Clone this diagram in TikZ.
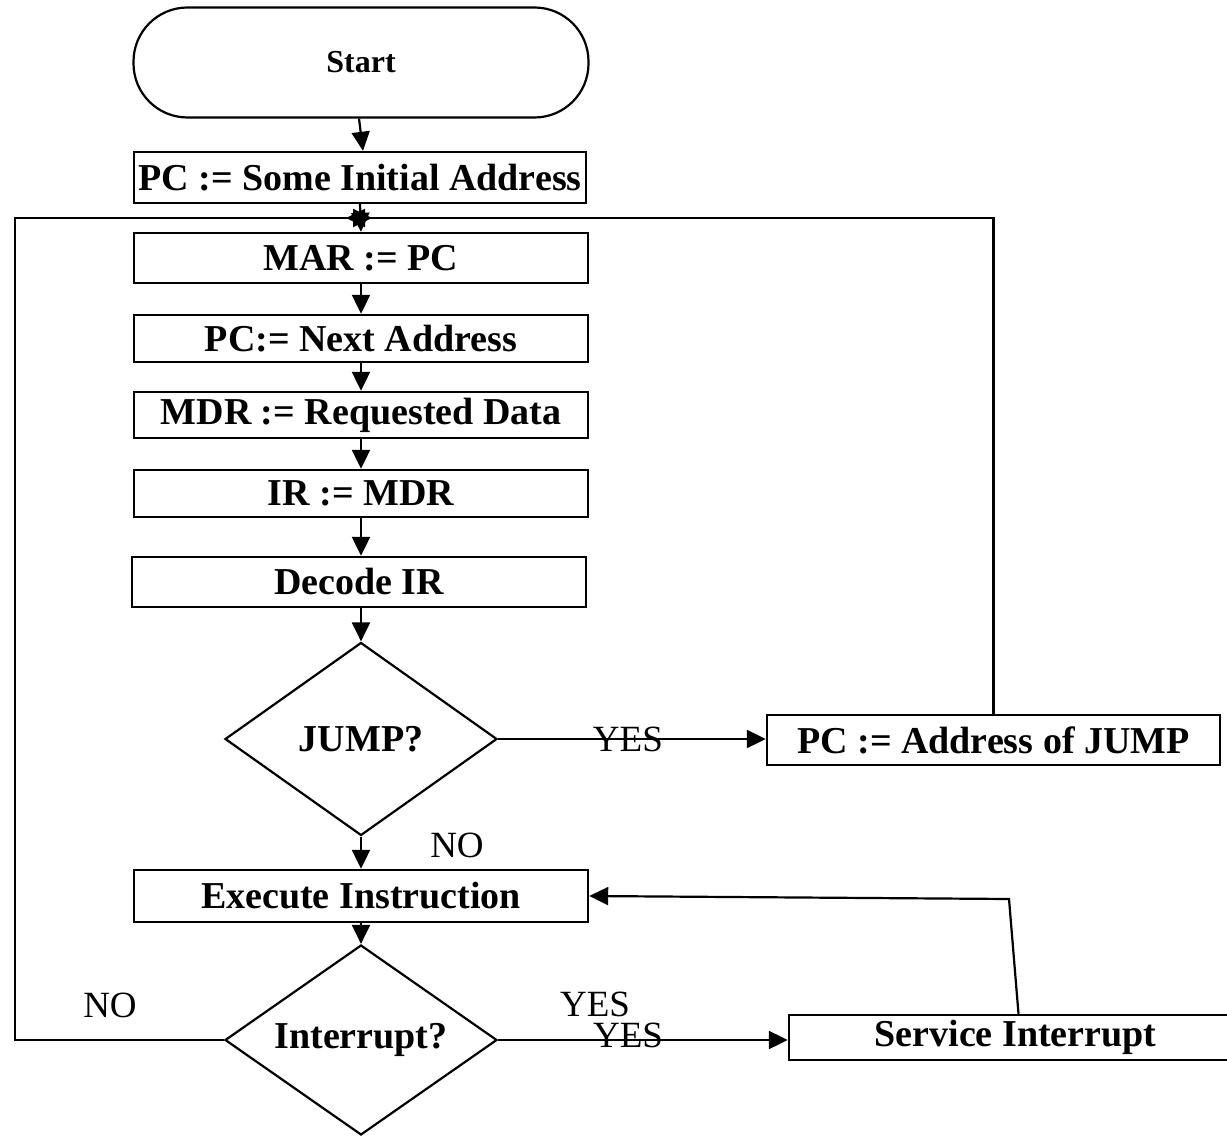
\documentclass[tikz,border=0pt]{standalone}
\usepackage{fontspec}
\setmainfont{Liberation Serif}
\usetikzlibrary{shapes.geometric,arrows.meta,calc}

\newcommand\flowboxfont{\fontsize{19}{22}\selectfont\bfseries}
\newcommand\flowstartfont{\fontsize{16}{19}\selectfont\bfseries}
\newcommand\flowlabfont{\fontsize{18.5}{21}\selectfont}

\begin{document}
\begin{tikzpicture}[x=0.5pt, y=-0.5pt,
  startbox/.style={draw, line width=1.1pt, rounded corners=27pt,
    minimum width=227.5pt, minimum height=55pt, inner sep=0pt, font=\flowstartfont},
  proc/.style={draw, line width=1.2pt, minimum width=227pt, minimum height=25pt,
    inner sep=0pt, font=\flowboxfont},
  decision/.style={draw, diamond, line width=1.1pt, aspect=1.417,
    minimum width=136pt, minimum height=96.5pt, inner sep=0pt, font=\flowboxfont},
  flow/.style={line width=1.1pt, -{Triangle[length=9.5pt,width=9pt]}},
  lab/.style={font=\flowlabfont, inner sep=0pt}]

\useasboundingbox (0,0) rectangle (1227,1139);

% process chain
\node[startbox] (start) at (361,62.5) {Start};
\node[proc, minimum width=226pt, minimum height=25.5pt] (init) at (360,177.5) {PC := Some Initial Address};
\node[proc] (mar) at (361,258) {MAR := PC};
\node[proc, minimum height=23.5pt] (next) at (361,338.5) {PC:= Next Address};
\node[proc, minimum height=23pt] (mdr) at (361,415) {MDR := Requested Data};
\node[proc, minimum height=23.5pt] (ir) at (361,493.5) {IR := MDR};
\node[proc] (decode) at (359,582) {Decode IR};
\node[decision] (jump) at (361,739) {JUMP?};
\node[proc, minimum width=226.5pt] (pcj) at (993.5,740) {PC := Address of JUMP};
\node[proc, minimum height=26pt] (exec) at (361,896) {Execute Instruction};
\node[decision, minimum height=95pt] (intr) at (361,1040) {Interrupt?};
\node[proc, minimum height=22.5pt, minimum width=226.5pt] (serv) at (1015.5,1037.5) {Service Interrupt};

% labels
\node[lab] (noA) at (457,845) {NO};
\node[lab] (noB) at (110,1005) {NO};
\node[lab] (yesC) at (595,1004) {YES};

% junction where the loops re-enter
\coordinate (merge) at (361,218);
\coordinate (bend) at (1009,899);

% main flow
\draw[flow] ($(start.south)+(-2,0)$) -- ($(init.north)+(3,0)$);
\draw[flow] (init.south) -- (mar.north);
\draw[flow] (mar.south) -- (next.north);
\draw[flow] (next.south) -- (mdr.north);
\draw[flow] (mdr.south) -- (ir.north);
\draw[flow] (ir.south) -- (ir.south |- decode.north);
\draw[flow] (jump.north |- decode.south) -- (jump.north);
\draw[flow] (jump.south) -- (exec.north);
\draw[flow] (exec.south) -- (intr.north);

% branches
\draw[flow] (jump.east) -- (jump.east -| pcj.west) node[lab, pos=0.485] (yesA) {YES};
\draw[flow] (intr.east) -- (intr.east -| serv.west);
\node[lab] (yesB) at (628,1035) {YES};
\draw[flow] ($(serv.north)+(3,0)$) -- (bend) -- (exec.east);

% loops back to the fetch
\draw[flow] (intr.west) -| (15,218) -- ($(merge)+(11,0)$);
\draw[flow] (pcj.north) |- ($(merge)+(-15,0)$);

\end{tikzpicture}
\end{document}
